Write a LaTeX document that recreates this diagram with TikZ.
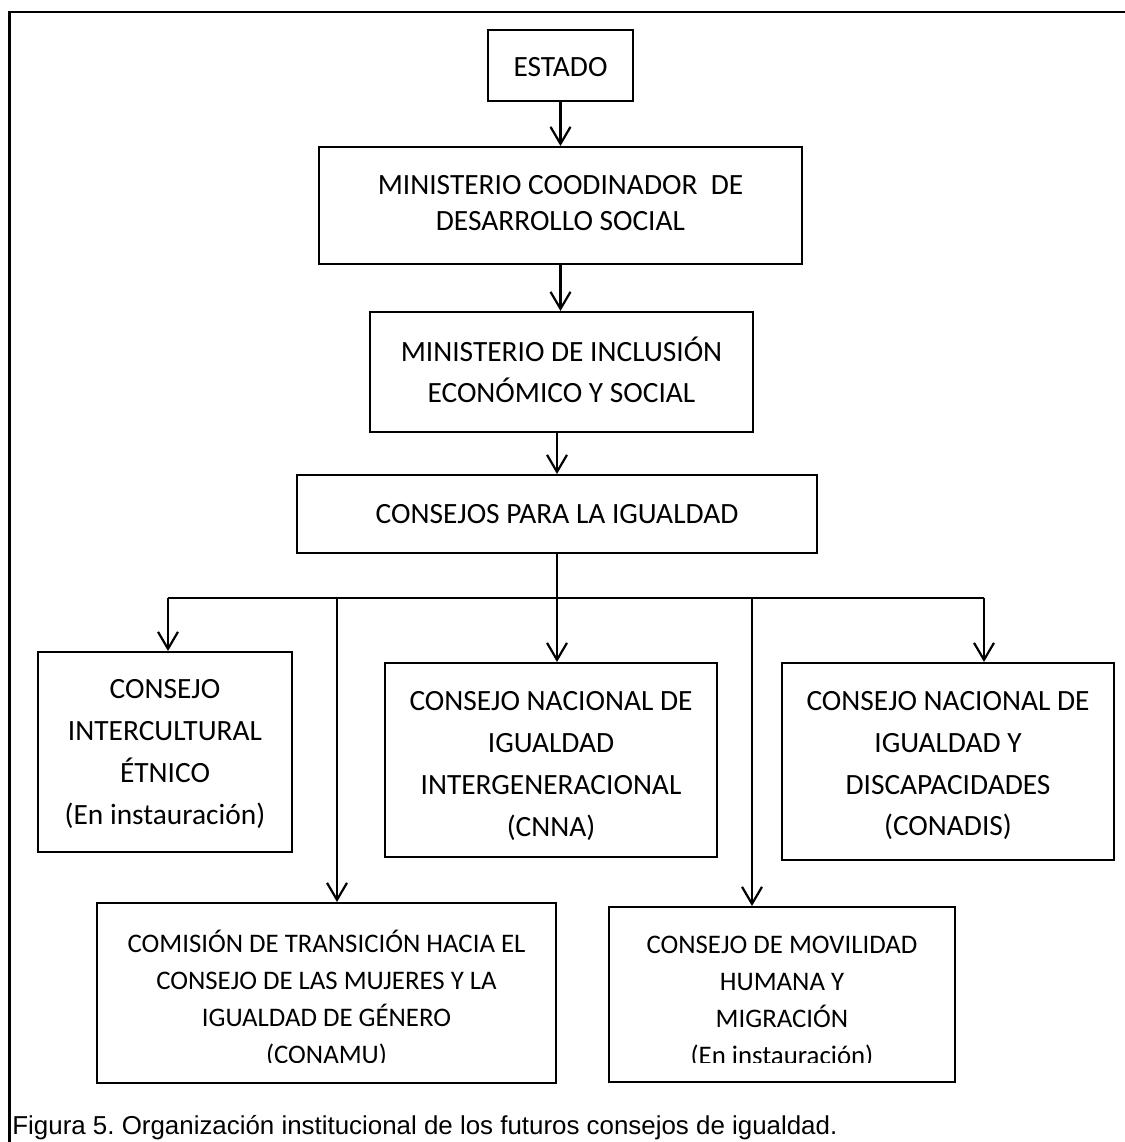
\documentclass[tikz,border=0pt]{standalone}
\usepackage{fontspec}
\setmainfont{Carlito}
\newfontfamily\capfont{Liberation Sans}
\usetikzlibrary{arrows.meta}
\frenchspacing
\tikzset{
  bx/.style={draw, line width=1pt, rectangle, inner sep=0pt},
  txt/.style={align=center, inner sep=0pt},
  fa/.style={font={\fontsize{14.7}{18}\selectfont}},
  fb/.style={font={\fontsize{14.7}{20.5}\selectfont}},
  fc/.style={font={\fontsize{14.7}{20.85}\selectfont}},
  fd/.style={font={\fontsize{13.4}{18.5}\selectfont}},
  conn/.style={line width=1.1pt},
  arr/.style={line width=1.1pt, -{Straight Barb[length=8.5pt,width=10pt,line width=1.1pt]}},
  frame/.style={line width=1.4pt},
  capt/.style={inner sep=0pt, font={\capfont\fontsize{12.95}{16}\selectfont}}
}
\newcommand\mkbox[8]{%
  \node[bx, minimum width={(#4-#2)*0.5pt}, minimum height={(#5-#3)*0.5pt}] (#1) at ({(#2+#4)/2},{(#3+#5)/2}) {};
  \node[txt,#6] (#1-t) at ({(#2+#4)/2},{(#3+#5)/2+#7}) {#8};}
\begin{document}
\begin{tikzpicture}[x=0.5pt,y=-0.5pt]
\useasboundingbox (0,0) rectangle (1125,1142);
% outer frame
\draw[frame] (9.5,1150) -- (9.5,12) -- (1135,12);

\mkbox{estado}{488}{30}{633}{101}{fa}{2}{ESTADO}
\mkbox{mcds}{319}{147}{802}{264}{fa}{-2}{MINISTERIO COODINADOR\ \ DE\\DESARROLLO SOCIAL}
\mkbox{mies}{370}{312}{753}{432}{fb}{-2}{MINISTERIO DE INCLUSIÓN\\ECONÓMICO Y SOCIAL}
\mkbox{cpi}{297}{475}{817}{553}{fa}{0}{CONSEJOS PARA LA IGUALDAD}
\mkbox{cie}{38}{652}{292}{852}{fc}{2}{CONSEJO\\INTERCULTURAL\\ÉTNICO\\(En instauración)}
\mkbox{cnna}{385}{663}{717}{857}{fc}{6}{CONSEJO NACIONAL DE\\IGUALDAD\\INTERGENERACIONAL\\(CNNA)}
\mkbox{conadis}{782}{663}{1114}{860}{fc}{4.4}{CONSEJO NACIONAL DE\\IGUALDAD Y\\DISCAPACIDADES\\(CONADIS)}

% bottom boxes with clipped text
\node[bx, minimum width={(556-97)*0.5pt}, minimum height={(1083-903)*0.5pt}] (com) at ({(97+556)/2},{(903+1083)/2}) {};
\node[bx, minimum width={(955-609)*0.5pt}, minimum height={(1082-907)*0.5pt}] (mov) at ({(609+955)/2},{(907+1082)/2}) {};
\begin{scope}
  \clip (97,903) rectangle (556,1062.5);
  \node[txt,fd] (com-t) at ({(97+556)/2},{(903+1083)/2+5.4}) {COMISIÓN DE TRANSICIÓN HACIA EL\\CONSEJO DE LAS MUJERES Y LA\\IGUALDAD DE GÉNERO\\(CONAMU)};
\end{scope}
\begin{scope}
  \clip (609,907) rectangle (955,1062.5);
  \node[txt,fd] (mov-t) at ({(609+955)/2},{(907+1082)/2+7.8}) {CONSEJO DE MOVILIDAD\\HUMANA Y\\MIGRACIÓN\\(En instauración)};
\end{scope}

% connectors
\draw[arr] (estado.south) -- (mcds.north);
\draw[arr] (mcds.south) -- (mcds.south |- mies.north);
\draw[arr] (mies.south -| cpi.north) -- (cpi.north);
\coordinate (hub) at (557,598);
\coordinate (b1) at (168,598);
\coordinate (b2) at (337,598);
\coordinate (b4) at (752,598);
\coordinate (b5) at (984,598);
\draw[conn] (cpi.south) -- (hub);
\draw[conn] (b1) -- (b5);
\draw[arr] (b1) -- (b1 |- cie.north);
\draw[arr] (b2) -- (b2 |- com.north);
\draw[arr] (hub) -- (hub |- cnna.north);
\draw[arr] (b4) -- (b4 |- mov.north);
\draw[arr] (b5) -- (b5 |- conadis.north);

% caption
\node[capt, anchor=base west] (cap) at (12,1134) {Figura 5. Organización institucional de los futuros consejos de igualdad.};
\end{tikzpicture}
\end{document}
